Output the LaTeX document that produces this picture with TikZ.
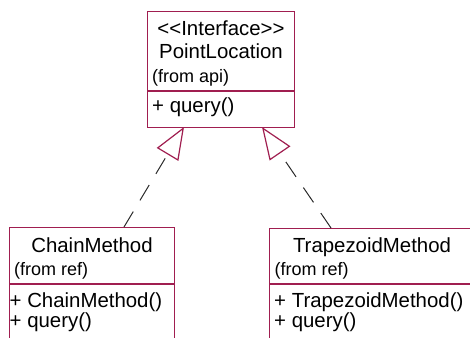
\documentclass[tikz,border=0pt]{standalone}
\usepackage{fontspec}
\setmainfont{Liberation Sans}
\usetikzlibrary{arrows.meta}
\definecolor{umred}{RGB}{160,30,80}
\definecolor{dashgray}{RGB}{40,40,40}
\tikzset{
  umlbox/.style={draw=umred, line width=1.2pt, fill=white, inner sep=0pt, anchor=north west},
  divider/.style={draw=umred, line width=1.2pt},
  nametext/.style={inner sep=0pt, anchor=base, font=\fontsize{20.4}{24}\selectfont},
  fromtext/.style={inner sep=0pt, anchor=base west, font=\fontsize{18}{22}\selectfont},
  optext/.style={inner sep=0pt, anchor=base west, font=\fontsize{20.4}{24}\selectfont},
  realize/.style={draw=dashgray, line width=1pt, dash pattern=on 18pt off 13pt,
    -{Triangle[open, length=32pt, width=25pt, color=umred, line width=1.2pt]}}
}
\begin{document}
\begin{tikzpicture}[x=1pt, y=-1pt]
\useasboundingbox (0,0) rectangle (470,337);
\clip (0,0) rectangle (470,337);
% top interface box
\node[umlbox, minimum width=147pt, minimum height=116pt] (pl) at (147,11) {};
\draw[divider] (147,91) -- (294,91);
\node[nametext] (plst) at (221,35) {<{}<Interface>{}>};
\node[nametext] (plname) at (221,59) {PointLocation};
\node[fromtext] (plfrom) at (152,82) {(from api)};
\node[optext] (plq) at (152,112) {+ query()};
% chain method box
\node[umlbox, minimum width=165pt, minimum height=130pt] (cm) at (9,227) {};
\draw[divider] (9,284) -- (174,284);
\node[nametext] (cmname) at (92,252) {ChainMethod};
\node[fromtext] (cmfrom) at (14,275) {(from ref)};
\node[optext] (cmc) at (9.5,307) {+ ChainMethod()};
\node[optext] (cmq) at (9.5,327) {+ query()};
% trapezoid method box
\node[umlbox, minimum width=220pt, minimum height=130pt] (tm) at (269,228) {};
\draw[divider] (269,284) -- (489,284);
\node[nametext] (tmname) at (372,252) {TrapezoidMethod};
\node[fromtext] (tmfrom) at (274.5,275) {(from ref)};
\node[optext] (tmc) at (274,307) {+ TrapezoidMethod()};
\node[optext] (tmq) at (274,327) {+ query()};
% connector end points
\coordinate (cmtop) at (124,227);
\coordinate (pltipl) at (184,127);
\coordinate (tmtop) at (331,228);
\coordinate (pltipr) at (262,127);
\draw[realize] (cmtop) -- (pltipl);
\draw[realize] (tmtop) -- (pltipr);
\end{tikzpicture}
\end{document}
